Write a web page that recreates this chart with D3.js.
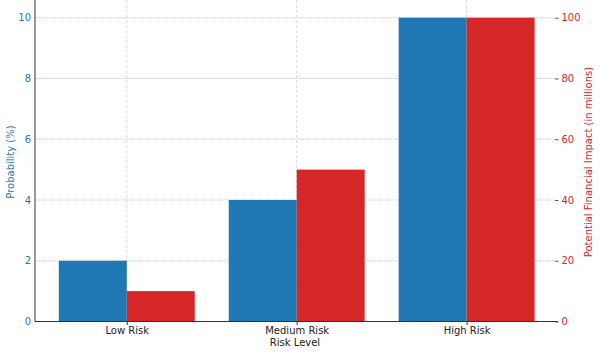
<!DOCTYPE html>
<html>
<head>
<meta charset="utf-8">
<script src="https://cdn.jsdelivr.net/npm/d3@7"></script>
<style>
  body { margin: 0; background: #fff; }
  text { font-family: "DejaVu Sans", sans-serif; }
</style>
</head>
<body>
<script>
var width = 600;
var height = 354;
var margin = { top: 2.5, right: 45, bottom: 32.5, left: 35 };

var categories = ["Low Risk", "Medium Risk", "High Risk"];
var probability = [2, 4, 10];
var impact = [10, 50, 100];
var probTicks = [0, 2, 4, 6, 8, 10];
var impactTicks = [0, 20, 40, 60, 80, 100];

var blue = "#1f77b4";
var red = "#d62728";
var barW = 0.4;

var svg = d3.select("body").append("svg")
    .attr("width", width)
    .attr("height", height);

var plotW = width - margin.left - margin.right;
var plotH = height - margin.top - margin.bottom;

var xScale = d3.scaleLinear()
    .domain([-0.54, categories.length - 1 + 0.52])
    .range([margin.left, margin.left + plotW]);
var yLeft = d3.scaleLinear()
    .domain([0, 10.5])
    .range([margin.top + plotH, margin.top]);
var yRight = d3.scaleLinear()
    .domain([0, 105])
    .range([margin.top + plotH, margin.top]);

// grid
svg.append("g").selectAll("line")
    .data(probTicks)
    .enter().append("line")
    .attr("x1", margin.left).attr("x2", margin.left + plotW)
    .attr("y1", function(d) { return yLeft(d); })
    .attr("y2", function(d) { return yLeft(d); })
    .attr("stroke", "#b8b8b8").attr("stroke-width", 0.8)
    .attr("stroke-dasharray", "1,1");

svg.append("g").selectAll("line")
    .data(categories)
    .enter().append("line")
    .attr("x1", function(d, i) { return xScale(i); })
    .attr("x2", function(d, i) { return xScale(i); })
    .attr("y1", 0).attr("y2", margin.top + plotH)
    .attr("stroke", "#cfcfcf").attr("stroke-width", 0.8)
    .attr("stroke-dasharray", "3,2");

// bars
svg.selectAll(".probBar")
    .data(probability)
    .enter().append("rect")
    .attr("class", "probBar")
    .attr("x", function(d, i) { return xScale(i - barW); })
    .attr("width", xScale(barW) - xScale(0))
    .attr("y", function(d) { return yLeft(d); })
    .attr("height", function(d) { return yLeft(0) - yLeft(d); })
    .attr("fill", blue);

svg.selectAll(".impactBar")
    .data(impact)
    .enter().append("rect")
    .attr("class", "impactBar")
    .attr("x", function(d, i) { return xScale(i); })
    .attr("width", xScale(barW) - xScale(0))
    .attr("y", function(d) { return yRight(d); })
    .attr("height", function(d) { return yRight(0) - yRight(d); })
    .attr("fill", red);

// axes
var xAxis = d3.axisBottom(d3.scaleOrdinal().domain(categories).range(categories.map(function(d, i) { return xScale(i); })))
    .tickSizeOuter(0).tickSize(3.5);
var gx = svg.append("g")
    .attr("transform", "translate(0," + (margin.top + plotH) + ")")
    .call(xAxis);
gx.select(".domain").remove();
gx.append("line")
    .attr("x1", margin.left).attr("x2", margin.left + plotW + 3)
    .attr("stroke", "#333").attr("stroke-width", 1);
gx.selectAll("text").attr("font-size", 10).attr("fill", "#222").attr("font-family", "DejaVu Sans").attr("dy", "0.55em");
gx.selectAll(".tick line").attr("stroke", "#333");

var gl = svg.append("g")
    .attr("transform", "translate(" + margin.left + ",0)")
    .call(d3.axisLeft(yLeft).tickValues(probTicks).tickSize(0).tickPadding(4).tickSizeOuter(0));
gl.select(".domain").attr("stroke", "#333").attr("d", "M0,0V" + (margin.top + plotH));
gl.selectAll("text").attr("font-size", 10).attr("fill", blue).attr("font-family", "DejaVu Sans");

var gr = svg.append("g")
    .attr("transform", "translate(" + (margin.left + plotW) + ",0)")
    .call(d3.axisRight(yRight).tickValues(impactTicks).tickSize(3.5).tickPadding(3).tickSizeOuter(0));
gr.select(".domain").remove();
gr.selectAll(".tick line").attr("stroke", "#555");
gr.selectAll("text").attr("font-size", 10).attr("fill", red).attr("font-family", "DejaVu Sans");

// labels
svg.append("text")
    .attr("x", margin.left + plotW / 2)
    .attr("y", 346)
    .attr("text-anchor", "middle")
    .attr("font-size", 10)
    .attr("fill", "#222")
    .text("Risk Level");

svg.append("text")
    .attr("transform", "translate(14," + (margin.top + plotH / 2) + ") rotate(-90)")
    .attr("text-anchor", "middle")
    .attr("font-size", 10)
    .attr("fill", blue)
    .text("Probability (%)");

svg.append("text")
    .attr("transform", "translate(592," + (margin.top + plotH / 2) + ") rotate(-90)")
    .attr("text-anchor", "middle")
    .attr("font-size", 10)
    .attr("fill", red)
    .text("Potential Financial Impact (in millions)");

// title, mostly above the visible area (as in the reference)
svg.append("text")
    .attr("x", margin.left + plotW / 2)
    .attr("y", -2.6)
    .attr("text-anchor", "middle")
    .attr("font-size", 12)
    .attr("fill", "#222")
    .text("Risk Rating Levels vs Probability (%) and Financial Impact");
</script>
</body>
</html>
